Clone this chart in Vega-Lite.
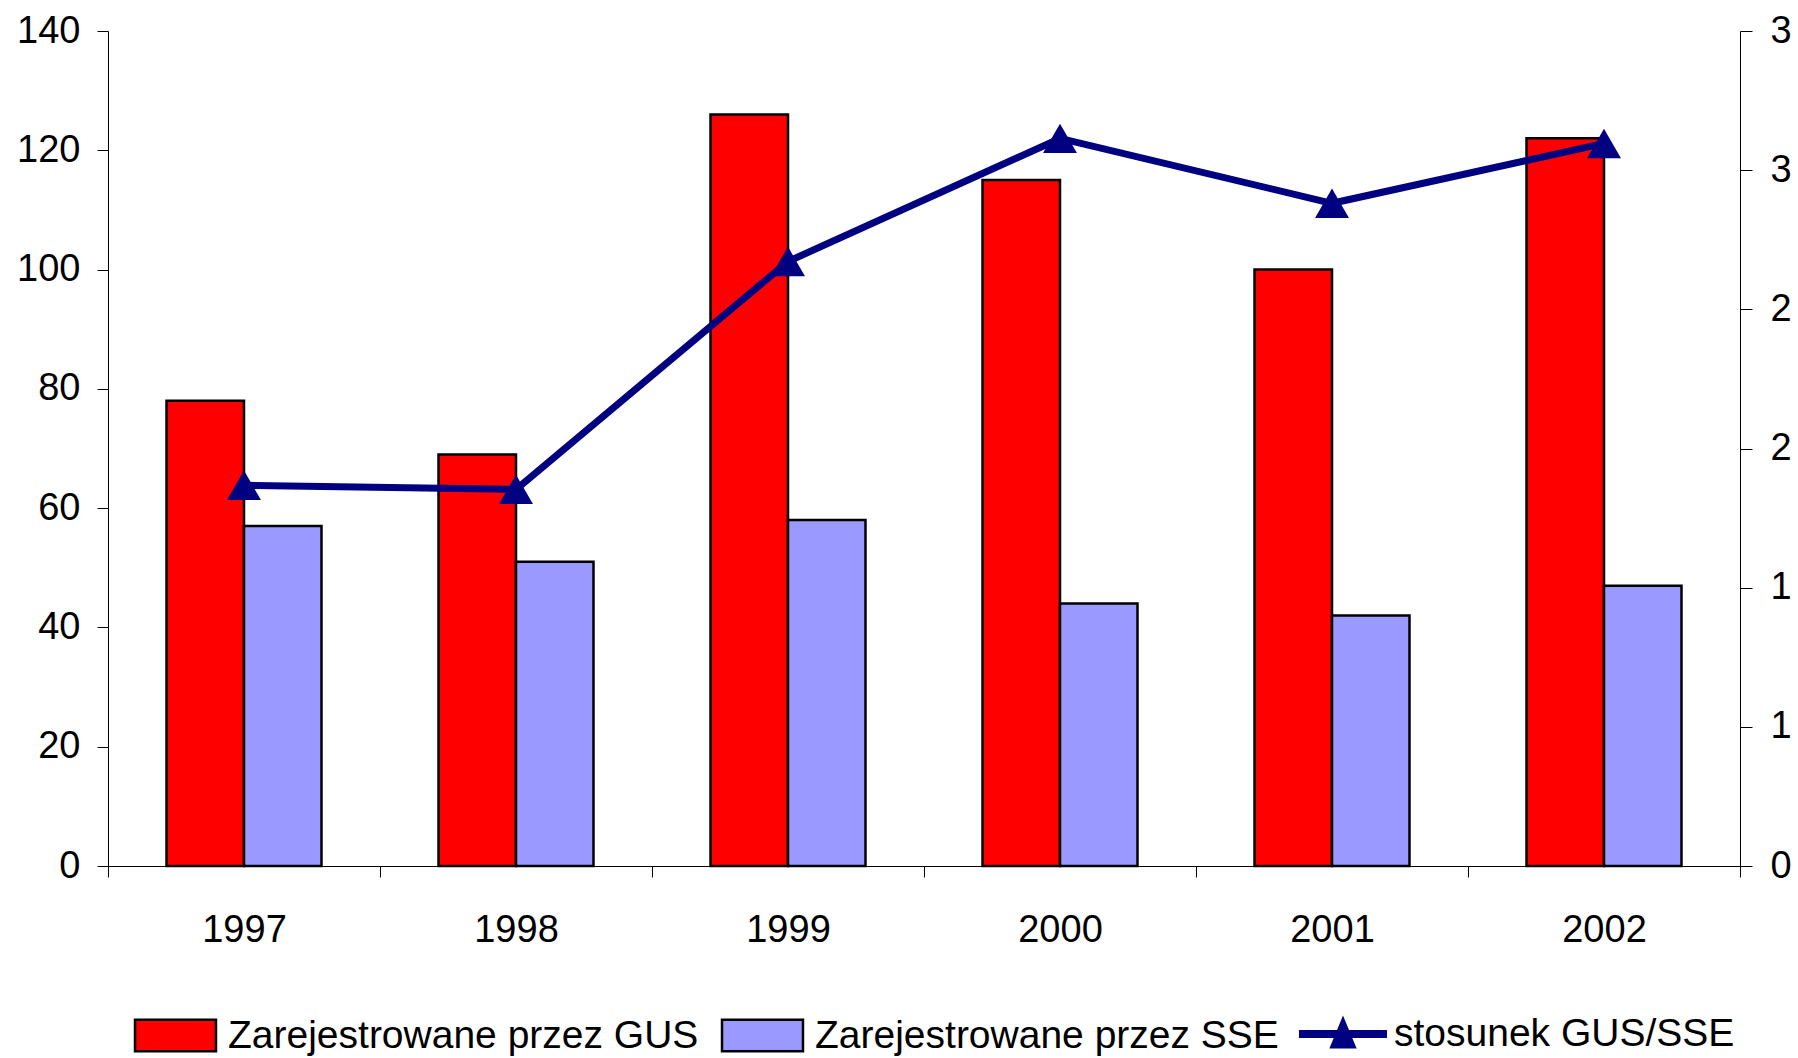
{
  "$schema": "https://vega.github.io/schema/vega-lite/v6.json",
  "width": 1632,
  "height": 835,
  "autosize": {"type": "none"},
  "padding": {"left": 108, "top": 31, "right": 58, "bottom": 192},
  "background": "white",
  "config": {
    "view": {"stroke": null},
    "font": "Liberation Sans",
    "axis": {
      "labelFont": "Liberation Sans",
      "labelFontSize": 38,
      "labelColor": "black",
      "domainColor": "black",
      "tickColor": "black",
      "domainWidth": 1,
      "tickWidth": 1,
      "grid": false,
      "title": null
    }
  },
  "datasets": {
    "bars": [
      {"year": "1997", "series": "Zarejestrowane przez GUS", "value": 78},
      {"year": "1997", "series": "Zarejestrowane przez SSE", "value": 57},
      {"year": "1998", "series": "Zarejestrowane przez GUS", "value": 69},
      {"year": "1998", "series": "Zarejestrowane przez SSE", "value": 51},
      {"year": "1999", "series": "Zarejestrowane przez GUS", "value": 126},
      {"year": "1999", "series": "Zarejestrowane przez SSE", "value": 58},
      {"year": "2000", "series": "Zarejestrowane przez GUS", "value": 115},
      {"year": "2000", "series": "Zarejestrowane przez SSE", "value": 44},
      {"year": "2001", "series": "Zarejestrowane przez GUS", "value": 100},
      {"year": "2001", "series": "Zarejestrowane przez SSE", "value": 42},
      {"year": "2002", "series": "Zarejestrowane przez GUS", "value": 122},
      {"year": "2002", "series": "Zarejestrowane przez SSE", "value": 47}
    ],
    "ratio": [
      {"year": "1997", "ratio": 1.368},
      {"year": "1998", "ratio": 1.353},
      {"year": "1999", "ratio": 2.172},
      {"year": "2000", "ratio": 2.614},
      {"year": "2001", "ratio": 2.381},
      {"year": "2002", "ratio": 2.596}
    ]
  },
  "encoding": {
    "x": {
      "field": "year",
      "type": "nominal",
      "scale": {"paddingInner": 0, "paddingOuter": 0},
      "axis": {"labelAngle": 0, "tickBand": "extent", "tickSize": 11, "labelPadding": 34, "title": null}
    }
  },
  "layer": [
    {
      "data": {"name": "bars"},
      "mark": {"type": "bar", "stroke": "black", "strokeWidth": 2.5},
      "encoding": {
        "xOffset": {"field": "series", "type": "nominal", "scale": {"paddingInner": 0, "paddingOuter": 0.755}},
        "y": {
          "field": "value",
          "type": "quantitative",
          "scale": {"domain": [0, 140], "nice": false},
          "axis": {"values": [0, 20, 40, 60, 80, 100, 120, 140], "tickSize": 11, "labelPadding": 17, "title": null}
        },
        "fill": {
          "field": "series",
          "type": "nominal",
          "scale": {
            "domain": ["Zarejestrowane przez GUS", "Zarejestrowane przez SSE"],
            "range": ["#FF0000", "#9999FF"]
          },
          "legend": {
            "title": null,
            "orient": "none",
            "legendX": 22,
            "legendY": 959,
            "direction": "horizontal",
            "columns": 2,
            "gridAlign": "none",
            "columnPadding": 18,
            "padding": 0,
            "labelFont": "Liberation Sans",
            "labelFontSize": 39,
            "labelColor": "black",
            "labelOffset": 7,
            "labelLimit": 1000,
            "symbolSize": 7744,
            "symbolType": "M-0.92,-0.36H0.92V0.36H-0.92Z",
            "symbolStrokeColor": "black",
            "symbolStrokeWidth": 2.5,
            "symbolOpacity": 1
          }
        }
      }
    },
    {
      "data": {"name": "ratio"},
      "encoding": {
        "y": {
          "field": "ratio",
          "type": "quantitative",
          "scale": {"domain": [0, 3], "nice": false},
          "axis": {"orient": "right", "values": [0, 0.5, 1, 1.5, 2, 2.5, 3], "format": ".0f", "tickSize": 12, "labelPadding": 18, "title": null}
        }
      },
      "layer": [
        {
          "mark": {"type": "line", "strokeWidth": 7, "color": "#000080"}
        },
        {
          "mark": {"type": "point", "shape": "triangle-up", "size": 1150, "filled": true, "opacity": 1},
          "encoding": {
            "color": {
              "datum": "stosunek GUS/SSE",
              "scale": {"domain": ["stosunek GUS/SSE"], "range": ["#000080"]},
              "legend": {
                "title": null,
                "orient": "none",
                "legendX": 1191,
                "legendY": 959,
                "padding": 0,
                "labelFont": "Liberation Sans",
                "labelFontSize": 39,
                "labelColor": "black",
                "labelOffset": 7,
                "labelLimit": 1000,
                "symbolSize": 7744,
                "symbolType": "M-1,-0.09H1V0.09H-1Z M0,-0.42L0.31,0.33H-0.31Z",
                "symbolFillColor": "#000080",
                "symbolStrokeWidth": 0,
                "symbolOpacity": 1
              }
            }
          }
        }
      ]
    }
  ],
  "resolve": {"scale": {"y": "independent"}}
}
